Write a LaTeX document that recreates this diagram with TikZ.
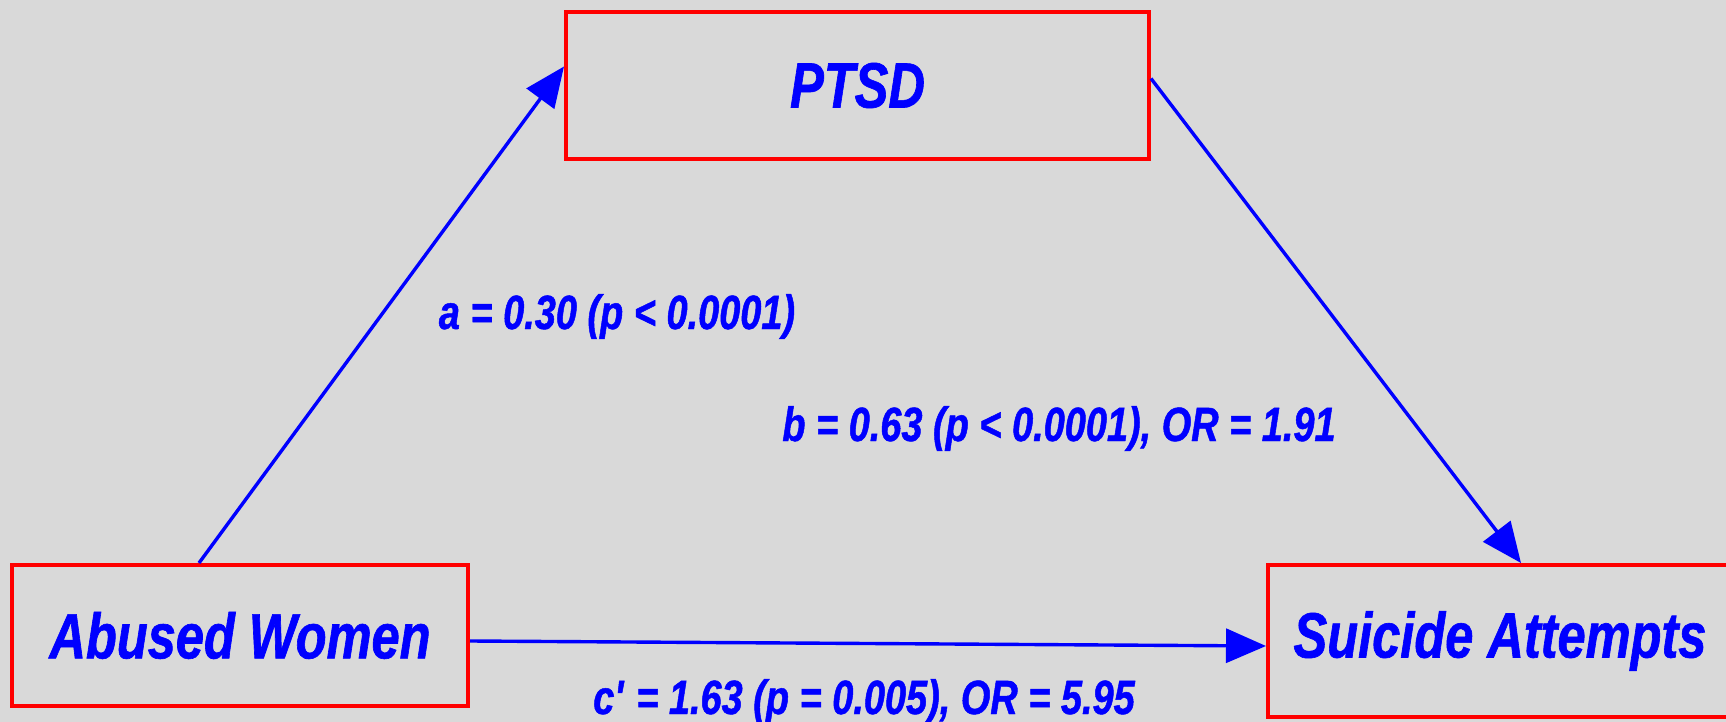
\documentclass[tikz,border=0pt]{standalone}
\usepackage{fontspec}
\newfontfamily\narrowsans{Liberation Sans}[FakeStretch=0.79, FakeBold=1]
\usetikzlibrary{arrows.meta,calc}
\definecolor{bggray}{RGB}{217,217,217}
\begin{document}
\begin{tikzpicture}
		[x=0.5pt, y=-0.5pt,
		every node/.style={inner sep=1pt, text=blue},
		varbox/.style={rectangle, draw=red, line width=2pt, font=\narrowsans\bfseries\itshape\fontsize{32}{38}\selectfont},
		pathlabel/.style={anchor=base, font=\narrowsans\bfseries\itshape\fontsize{24}{29}\selectfont},
		effect/.style={blue, line width=1.7pt},
		>={Triangle[length=20pt, width=17pt]}]
		\useasboundingbox (0,0) rectangle (1726,722);
		\fill[bggray] (0,0) rectangle (1726,722);
		
		\node[varbox, minimum width=228pt, minimum height=70.5pt] (abused) at (240,635.5) {Abused Women};
		\node[varbox, minimum width=291.5pt, minimum height=73.5pt] (ptsd) at (857.5,85.5) {PTSD};
		\node[varbox, minimum width=232pt, minimum height=76pt] (suicide) at (1500,641) {Suicide Attempts};
		
		\node[pathlabel] (alabel) at (617,329) {a = 0.30 (p < 0.0001)};
		\node[pathlabel] (blabel) at (1059,441) {b = 0.63 (p < 0.0001), OR = 1.91};
		\node[pathlabel] (clabel) at (864,714) {c\textquotesingle{} = 1.63 (p = 0.005), OR = 5.95};
		
		\path[->] ($(abused.north)+(-41,0)$) edge[effect] ($(ptsd.west)+(0,-19)$);
		\path[->] ($(ptsd.east)+(0,-7)$) edge[effect] ($(suicide.north)+(21,0)$);
		\path[->] ($(abused.east)+(0,5.5)$) edge[effect] ($(suicide.west)+(0,5)$);
		\end{tikzpicture}
\end{document}
